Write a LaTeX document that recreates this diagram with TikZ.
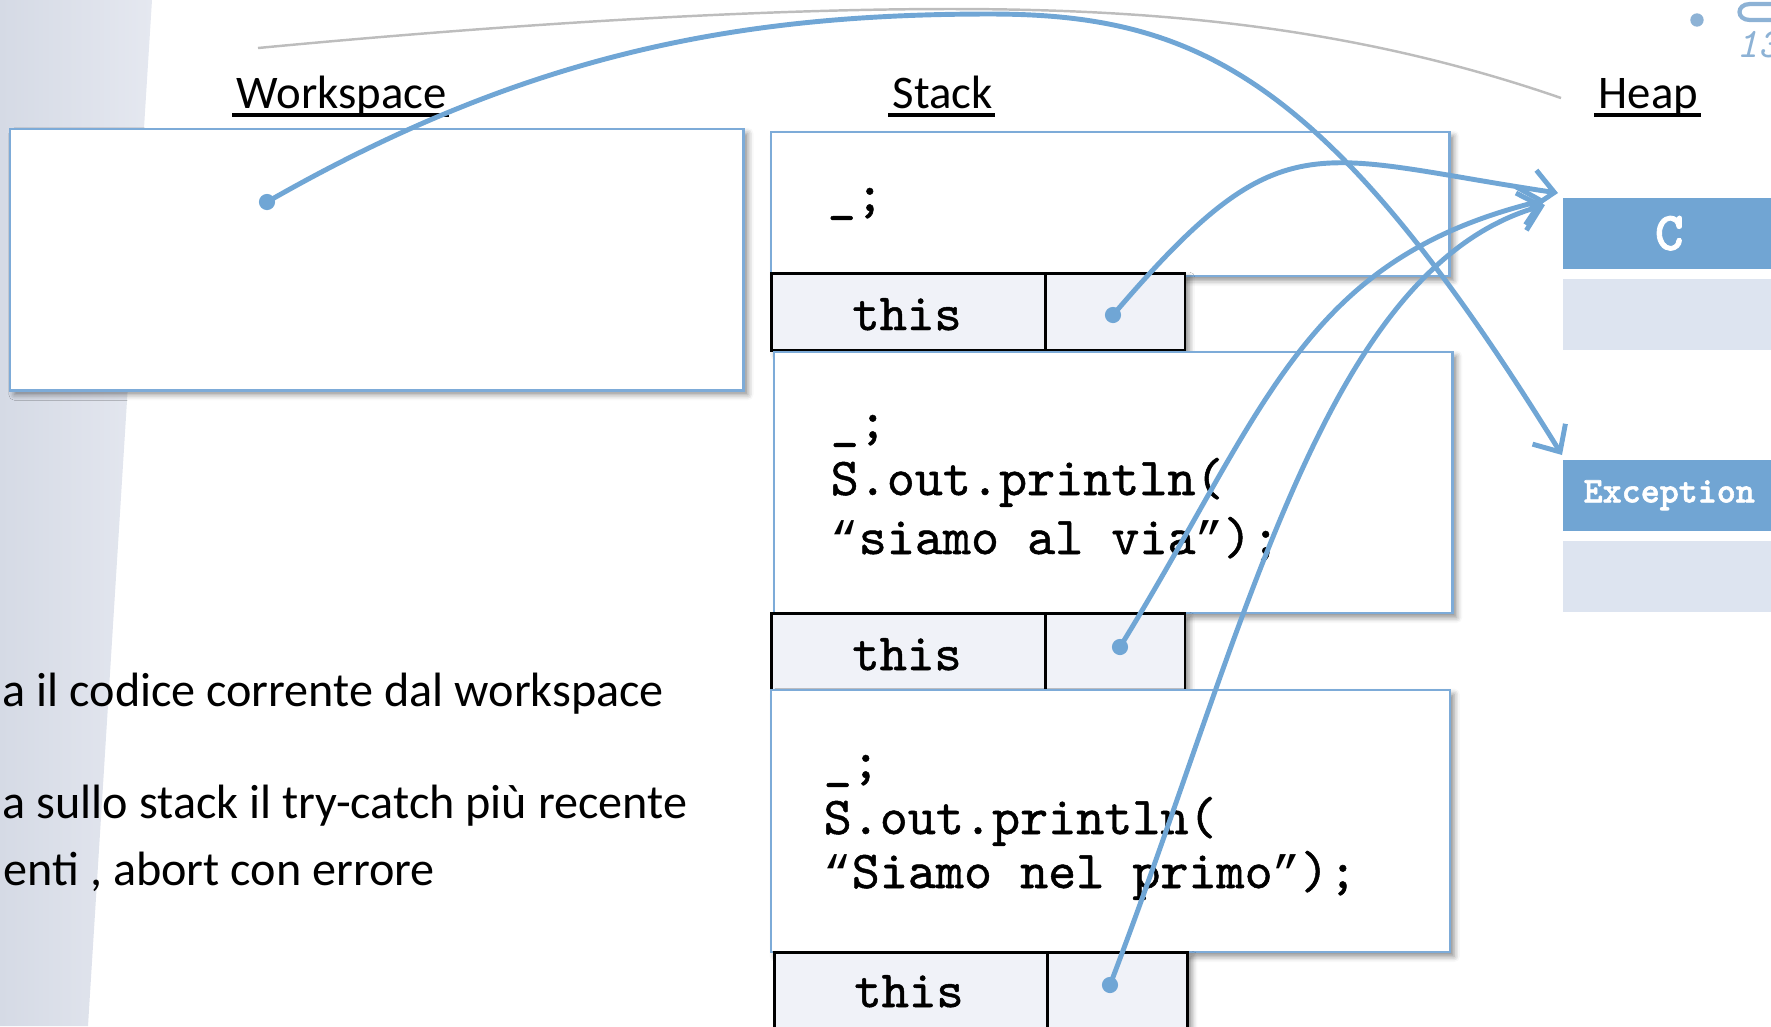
\documentclass[tikz,border=0pt]{standalone}
\usepackage{fontspec}
\newfontfamily\carlito{Carlito}
\newfontfamily\codefont{lmmono10-regular.otf}[FakeBold=0.9]
\newfontfamily\codebold{lmmonolt10-bold.otf}[FakeBold=1.6]
\newfontfamily\quotefont{Liberation Mono}
\usetikzlibrary{arrows.meta,shadows.blur,calc}

\definecolor{lineblue}{HTML}{70A6D5}
\definecolor{frameblue}{HTML}{7DABD8}
\definecolor{headblue}{HTML}{71A5D3}
\definecolor{bodyblue}{HTML}{DDE4F0}
\definecolor{cellfill}{HTML}{F0F2F8}
\definecolor{bandL}{HTML}{D5DAE5}
\definecolor{bandR}{HTML}{E5E8F0}
\definecolor{arcgray}{HTML}{BDBDBD}
\definecolor{decoblue}{HTML}{8DB2D5}

% curly quotes taken from a Courier-width font
\newcommand{\openq}{{\quotefont\fontsize{13.3}{18}\selectfont “}}
\newcommand{\closeq}{{\quotefont\fontsize{13.3}{18}\selectfont ”}}

\begin{document}
\begin{tikzpicture}[x=0.01cm,y=-0.01cm,
  softshadow/.style={blur shadow={shadow xshift=1.2pt,shadow yshift=-1.2pt,
      shadow blur radius=1.6pt,shadow opacity=45}},
  wsbox/.style={draw=frameblue,line width=0.7pt,fill=white,softshadow,
      anchor=north west,inner sep=0pt},
  framebox/.style={draw=frameblue,line width=0.6pt,fill=white,softshadow,
      anchor=north west,inner sep=0pt},
  cellbox/.style={draw=black,line width=0.8pt,fill=cellfill,softshadow,
      anchor=north west,inner sep=0pt,minimum height=0.77cm},
  headbox/.style={fill=headblue,anchor=north west,inner sep=0pt,
      minimum width=2.13cm,minimum height=0.71cm,text=white},
  bodybox/.style={fill=bodyblue,anchor=north west,inner sep=0pt,
      minimum width=2.13cm,minimum height=0.71cm},
  title/.style={font=\carlito\fontsize{13.3}{16}\selectfont,anchor=base west,inner sep=0pt},
  uline/.style={line width=1.1pt},
  body/.style={font=\carlito\fontsize{13.7}{16}\selectfont,anchor=base west,inner sep=0pt},
  code/.style={font=\codefont\fontsize{15.2}{18}\selectfont,anchor=base west,inner sep=0pt},
  thistext/.style={font=\codefont\fontsize{14.8}{18}\selectfont,anchor=base,inner sep=0pt},
  ptr/.style={draw=lineblue,line width=1.4pt,-{Straight Barb[length=6pt,width=11pt]}},
  dot/.style={fill=lineblue},
  arcline/.style={draw=arcgray,line width=0.7pt}
]
\useasboundingbox (0,0) rectangle (1771,1026);

% shaded side band
\shade[left color=bandL,right color=bandR] (0,0) -- (152,0) -- (88,1026) -- (0,1026) -- cycle;

% corner ornament
\fill[decoblue] (1697,20) circle (1.9pt);
\draw[decoblue,line width=1.2pt] (1775,4) -- (1750,4) .. controls (1736,4) and (1736,20) .. (1750,20) -- (1775,20);
\node[font=\ttfamily\itshape\fontsize{12}{14}\selectfont,text=decoblue,anchor=base west,inner sep=0pt] (pg) at (1736,57) {13};

% thin grey arc along the top
\coordinate (arcA) at (258,48);
\coordinate (arcB) at (1561,98);
\draw[arcline] (arcA) .. controls (500,25) and (750,9) .. (950,9) .. controls (1150,9) and (1350,25) .. (arcB);

% section titles
\node[title] (tws) at (236,108) {Workspace};
\node[title] (tst) at (892,108) {Stack};
\node[title] (thp) at (1598,108) {Heap};
\foreach \t in {tws,tst,thp}
  \draw[uline] ([xshift=-1pt,yshift=-2pt]\t.base west) -- ([xshift=0.5pt,yshift=-2pt]\t.base east);

% workspace
\node[wsbox,minimum width=7.33cm,minimum height=2.61cm] (ws) at (9,128) {};

% stack frames
\node[framebox,minimum width=6.78cm,minimum height=1.44cm] (f1) at (770,131) {};
\node[cellbox,minimum width=2.74cm] (n1) at (770,272) {};
\node[cellbox,minimum width=1.395cm] (p1) at (1044,272) {};
\node[framebox,minimum width=6.78cm,minimum height=2.61cm] (f2) at (773,351) {};
\node[cellbox,minimum width=2.74cm] (n2) at (770,612) {};
\node[cellbox,minimum width=1.395cm] (p2) at (1044,612) {};
\node[framebox,minimum width=6.785cm,minimum height=2.62cm] (f3) at (770,689) {};
\node[cellbox,minimum width=2.73cm,minimum height=0.9cm] (n3) at (773,951) {};
\node[cellbox,minimum width=1.40cm,minimum height=0.9cm] (p3) at (1046,951) {};

% frame contents
\node[code] (c1a) at (827,211) {\_;};
\node[code] (c2a) at (830,438) {\_;};
\node[code] (c2b) at (830,495) {S.out.println(};
\node[code] (c2c) at (830,554) {\openq siamo al via\closeq);};
\node[code] (c3a) at (823,778) {\_;};
\node[code] (c3b) at (823,834) {S.out.println(};
\node[code] (c3c) at (823,888) {\openq Siamo nel primo\closeq);};
\node[thistext] (t1) at (907,330) {this};
\node[thistext] (t2) at (907,670) {this};
\node[thistext] (t3) at (909,1007) {this};

% heap objects
\node[headbox,font=\codebold\fontsize{15.5}{17}\selectfont] (ch) at (1562,197) {C};
\node[bodybox] (cb) at (1562,278) {};
\node[headbox,font=\codebold\fontsize{10.3}{12}\selectfont] (eh) at (1562,459) {Exception};
\node[bodybox] (eb) at (1562,540) {};

% text on the left
\node[body] (l1) at (2,706) {a il codice corrente dal workspace};
\node[body] (l2) at (2,818) {a sullo stack il try-catch più recente};
\node[body] (l3) at (3,885) {enti , abort con errore};

% references
\coordinate (wsdot) at (267,202);
\coordinate (d1) at (1113,315);
\coordinate (d2) at (1120,647);
\coordinate (d3) at (1110,985);
\coordinate (cin1) at ($(ch.north west)+(-4,-4)$);
\coordinate (cin2) at ($(ch.north west)+(-17,3)$);
\coordinate (cin3) at ($(ch.north west)+(-17,8)$);
\coordinate (ein) at ($(eh.north west)+(0,-4)$);

\draw[ptr] (wsdot) .. controls (527,53) and (740,14) .. (990,14)
                   .. controls (1200,14) and (1330,80) .. (ein);
\draw[ptr] (d1) .. controls (1282,117) and (1310,156) .. (cin1);
\draw[ptr] (d2) .. controls (1267,408) and (1302,259) .. (cin2);
\draw[ptr] (d3) .. controls (1246,630) and (1324,267) .. (cin3);
\foreach \p in {wsdot,d1,d2,d3}
  \fill[dot] (\p) circle (2.3pt);
\end{tikzpicture}
\end{document}
